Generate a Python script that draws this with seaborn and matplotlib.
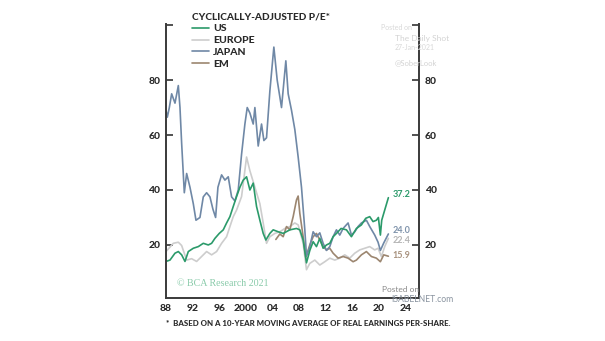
import matplotlib
matplotlib.use("Agg")
import matplotlib.pyplot as plt
import seaborn as sns
import pandas as pd
from matplotlib.lines import Line2D

# ---------------- data ----------------
years_jp = [1988.0, 1988.2, 1988.5, 1988.85, 1989.35, 1989.85, 1990.1, 1990.35, 1990.75, 1991.1,
            1991.6, 1992.1, 1992.5, 1993.1, 1993.6, 1994.1, 1994.6, 1995.05, 1995.45, 1995.8,
            1996.35, 1996.85, 1997.35, 1997.85, 1998.35, 1998.85, 1999.35, 1999.85, 2000.2, 2000.6,
            2001.1, 2001.35, 2001.85, 2002.35, 2002.7, 2003.1, 2003.6, 2004.2, 2004.7, 2005.35,
            2006.0, 2006.35, 2006.85, 2007.35, 2007.85, 2008.35, 2008.85, 2009.1, 2009.6, 2010.1,
            2010.6, 2011.1, 2011.6, 2012.1, 2012.6, 2013.1, 2013.6, 2014.1, 2014.6, 2015.35,
            2015.85, 2016.35, 2016.85, 2017.35, 2018.1, 2018.6, 2019.35, 2019.85, 2020.2, 2020.7,
            2021.4]
japan = [69, 66.5, 70, 75, 71.6, 78, 70, 57, 39, 46,
         41, 35, 29, 30, 37.5, 39, 37.5, 33, 30, 41,
         45.5, 43.6, 44.8, 37.5, 36, 40, 53, 64, 70, 68,
         64, 70, 56, 64, 58, 59, 76, 92, 80, 70,
         87, 75, 69, 62, 52, 41, 25.5, 16, 19.4, 24.8,
         23, 24.4, 20.6, 18, 19.4, 23, 25.5, 23.6, 26, 28,
         23.6, 24.8, 26.7, 28, 29, 26.7, 23.6, 21, 18, 20.7,
         24.0]

years_us = [1988.0, 1988.6, 1989.35, 1989.85, 1990.35, 1990.85, 1991.35, 1992.1, 1992.85, 1993.6,
            1994.35, 1994.85, 1995.35, 1996.0, 1996.6, 1997.1, 1997.6, 1998.1, 1998.6, 1999.1,
            1999.6, 2000.1, 2000.6, 2001.1, 2001.6, 2002.1, 2002.6, 2003.0, 2003.6, 2004.1,
            2004.85, 2005.6, 2006.6, 2007.6, 2008.1, 2008.6, 2009.1, 2009.6, 2010.1, 2010.6,
            2011.1, 2011.6, 2012.1, 2012.6, 2013.1, 2013.6, 2014.3, 2015.1, 2015.85, 2016.6,
            2017.35, 2018.0, 2018.6, 2019.1, 2019.6, 2019.9, 2020.2, 2020.4, 2020.85, 2021.4]
us = [14, 14.5, 17, 17.6, 16.4, 14, 17.6, 18.8, 19.4, 20.6,
      20, 20.6, 22.4, 24.2, 25.5, 28, 30.3, 34, 37.6, 41,
      43.6, 44.8, 40, 42.5, 34, 29, 24.2, 21.8, 24.2, 25.5,
      24.8, 24.2, 25.5, 26, 25.5, 21.8, 13.5, 18, 21.2, 19.4,
      22.4, 18.8, 20, 20.6, 23, 24.2, 26, 25.5, 23, 26,
      27.3, 29.7, 30.3, 28.5, 29, 30, 23.6, 29, 32.7, 37.2]

years_eu = [1988.0, 1989.1, 1989.85, 1990.35, 1991.1, 1991.85, 1992.6, 1993.35, 1994.1, 1994.85,
            1995.6, 1996.35, 1997.1, 1997.6, 1998.1, 1998.6, 1999.35, 2000.1, 2000.6, 2001.35,
            2002.1, 2002.6, 2003.1, 2003.6, 2004.35, 2005.1, 2005.85, 2006.6, 2007.35, 2007.85,
            2008.6, 2009.1, 2009.6, 2010.35, 2011.1, 2011.85, 2012.6, 2013.35, 2014.1, 2014.85,
            2015.6, 2016.35, 2017.1, 2017.85, 2018.6, 2019.35, 2019.85, 2020.35, 2020.85, 2021.4]
europe = [17.6, 20.6, 21, 19.8, 14.5, 15, 14, 15.8, 17.6, 16.4,
          17.6, 20.6, 23, 26.7, 30.3, 32.7, 37.6, 52, 47, 41,
          35, 28, 20.6, 23, 24.2, 24.8, 26, 26.7, 28, 27.3,
          20.6, 11, 13.3, 14.5, 12.7, 13.9, 15.2, 14.5, 15.2, 16.4,
          15.2, 17, 18.2, 18.8, 19.4, 18.2, 18.8, 15.8, 19.4, 22.4]

years_em = [2004.5, 2005.1, 2005.6, 2006.1, 2006.6, 2007.1, 2007.6, 2007.85, 2008.1, 2008.6,
            2009.0, 2009.6, 2010.1, 2010.6, 2011.1, 2011.6, 2012.1, 2012.6, 2013.1, 2013.85,
            2014.6, 2015.35, 2016.1, 2016.6, 2017.35, 2018.1, 2018.85, 2019.6, 2020.2, 2020.7,
            2021.4]
em = [22, 24, 23, 26.7, 25.5, 30.3, 36.4, 37.8, 31.5, 23,
      15.5, 20, 23, 24.2, 21.8, 19.4, 18.2, 18.8, 17, 15.2,
      15.8, 15.2, 13.9, 14.5, 16.4, 17.6, 15.8, 15.2, 13.9, 16.4,
      15.9]

series_names = ["US", "EUROPE", "JAPAN", "EM"]
end_labels = ["37.2", "22.4", "24.0", "15.9"]
x_ticks = [1988, 1992, 1996, 2000, 2004, 2008, 2012, 2016, 2020, 2024]
x_labels = ["88", "92", "96", "2000", "04", "08", "12", "16", "20", "24"]
y_ticks = [20, 40, 60, 80, 100]
y_labels = ["20", "40", "60", "80", ""]

colors = {"US": "#2b9a6a", "EUROPE": "#cdcdcd", "JAPAN": "#6f88a6", "EM": "#9c8670"}
label_colors = {"US": "#2b9a6a", "EUROPE": "#b5b5b5", "JAPAN": "#7f93ab", "EM": "#a8927e"}

frames = []
for name, yrs, vals in [("US", years_us, us), ("EUROPE", years_eu, europe),
                        ("JAPAN", years_jp, japan), ("EM", years_em, em)]:
    frames.append(pd.DataFrame({"year": yrs, "pe": vals, "series": name}))
df = pd.concat(frames, ignore_index=True)

# ---------------- plot ----------------
sns.set_style("white")
FONT = ["Lato", "DejaVu Sans"]
plt.rcParams["font.family"] = FONT

fig = plt.figure(figsize=(6.05, 3.41), dpi=100)
ax = fig.add_axes([166 / 605, 1 - 298 / 341, (419 - 166) / 605, (298 - 24) / 341])

draw_order = ["EUROPE", "EM", "JAPAN", "US"]
for name in draw_order:
    sub = df[df["series"] == name]
    sns.lineplot(data=sub, x="year", y="pe", color=colors[name], lw=1.2, ax=ax,
                 legend=False, estimator=None, sort=False)

ax.set_xlim(1988, 2026)
ax.set_ylim(0.7, 100.4)
ax.set_xlabel("")
ax.set_ylabel("")

ax.set_xticks(x_ticks)
ax.set_xticklabels(x_labels, fontsize=7.5, fontweight="black", color="#2a2a2a")
ax.set_yticks(y_ticks)
ax.set_yticklabels(y_labels, fontsize=7.5, fontweight="black", color="#2a2a2a")
ax.tick_params(axis="both", direction="in", length=5, width=1.2, color="#333333", pad=4)
ax.tick_params(axis="y", which="both", left=True, right=True, labelleft=True, labelright=True)

for s in ["left", "right", "bottom"]:
    ax.spines[s].set_visible(True)
    ax.spines[s].set_color("#3a3a3a")
    ax.spines[s].set_linewidth(1.4)
ax.spines["top"].set_visible(False)

# legend
handles = [Line2D([0], [0], color=colors[n], lw=1.2) for n in series_names]
leg = ax.legend(handles, series_names, loc="upper left", bbox_to_anchor=(0.086, 1.058),
                frameon=False, handlelength=1.6, handletextpad=0.4, labelspacing=0.25,
                borderaxespad=0, prop={"family": FONT, "weight": "black", "size": 7.5},
                title="CYCLICALLY-ADJUSTED P/E*",
                title_fontproperties={"family": FONT, "weight": "black", "size": 7.3})
leg._legend_box.align = "left"
leg._legend_box.sep = 2
for t in leg.get_texts():
    t.set_color("#2a2a2a")
leg.get_title().set_color("#2a2a2a")

# end-of-line labels
for name, lab, yv in zip(series_names, end_labels, [37.2, 22.4, 24.0, 15.9]):
    offs = {"US": 1.0, "EUROPE": -0.6, "JAPAN": 1.4, "EM": 0.3}[name]
    ax.text(2022.0, yv + offs, lab, color=label_colors[name], fontsize=6.5,
            ha="left", va="center", fontweight="bold")

# watermarks
ax.text(1989.6, 5.8, "\u00a9 BCA Research 2021", color="#8acbaa", fontsize=7.2,
        family=["Liberation Serif", "DejaVu Serif"], ha="left", va="center")
fig.text(381 / 605, 1 - 27 / 341, "Posted on", color="#d8d8d8", fontsize=5, ha="left", va="center")
fig.text(395 / 605, 1 - 38 / 341, "The Daily Shot", color="#d3d3d3", fontsize=6, ha="left", va="center")
fig.text(395 / 605, 1 - 47 / 341, "27-Jan-2021", color="#d8d8d8", fontsize=5, ha="left", va="center")
fig.text(395 / 605, 1 - 63 / 341, "@SoberLook", color="#d3d3d3", fontsize=5.5, ha="left", va="center")
fig.text(382 / 605, 1 - 289 / 341, "Posted on", color="#8a8a8a", fontsize=6, ha="left", va="center")
fig.text(391 / 605, 1 - 299.5 / 341, "ISABELNET.com", color="#8a94a0", fontsize=6.2, ha="left", va="center")

# footnote
fig.text(166 / 605, 1 - 323 / 341, "*  BASED ON A 10-YEAR MOVING AVERAGE OF REAL EARNINGS PER-SHARE.",
         color="#2a2a2a", fontsize=5.7, fontweight="black", ha="left", va="center")

fig.savefig("out.png", dpi=100, facecolor="white")
